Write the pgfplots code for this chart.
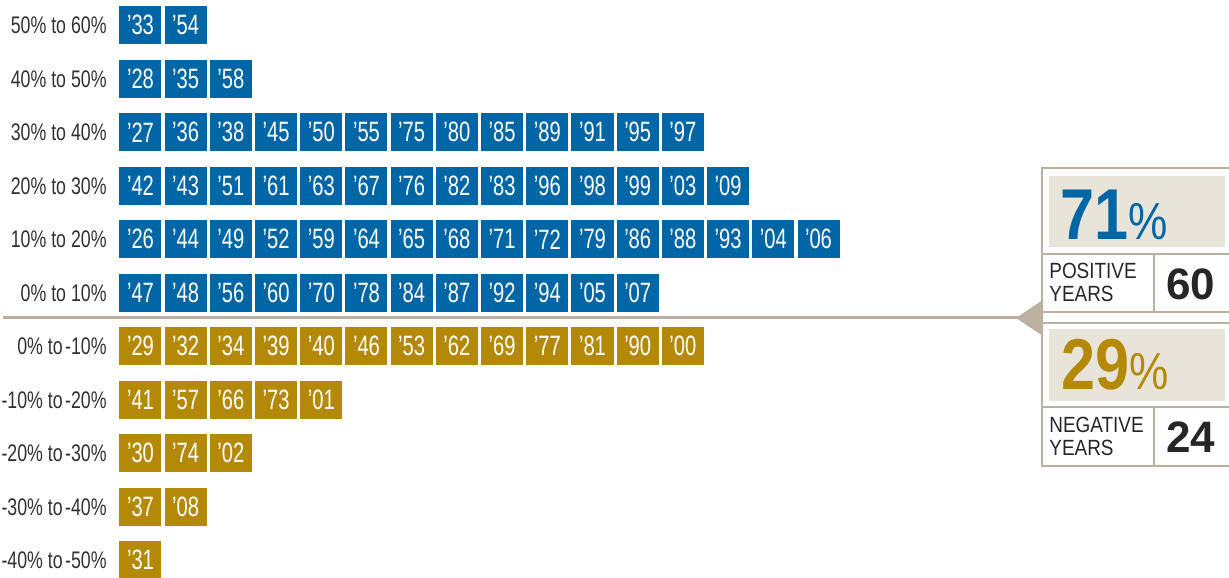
\documentclass[border=0pt]{standalone}
\usepackage{fontspec}
\setmainfont{Liberation Sans}
\newfontfamily\yearfam{Liberation Sans}[FakeStretch=0.72]
\newfontfamily\rowfam{Liberation Sans}[FakeStretch=0.74]
\newfontfamily\panelfam{Liberation Sans}[FakeStretch=0.86]
\newfontfamily\bigfam{Liberation Sans}[FakeStretch=0.85]
\usepackage{pgfplots}
\usepackage{pgfplotstable}
\pgfplotsset{compat=1.18}

\definecolor{posblue}{RGB}{0,102,166}
\definecolor{neggold}{RGB}{181,137,8}
\definecolor{rulecol}{RGB}{188,176,160}
\definecolor{panelbg}{RGB}{232,228,218}
\definecolor{labelgray}{RGB}{50,50,50}

\newcommand{\tominus}{to\hspace{0.1em}-}

% one box per year: column, middle of the return range, label
\pgfplotstableread{
col row lbl
1 55 ’33
2 55 ’54
1 45 ’28
2 45 ’35
3 45 ’58
1 35 ’27
2 35 ’36
3 35 ’38
4 35 ’45
5 35 ’50
6 35 ’55
7 35 ’75
8 35 ’80
9 35 ’85
10 35 ’89
11 35 ’91
12 35 ’95
13 35 ’97
1 25 ’42
2 25 ’43
3 25 ’51
4 25 ’61
5 25 ’63
6 25 ’67
7 25 ’76
8 25 ’82
9 25 ’83
10 25 ’96
11 25 ’98
12 25 ’99
13 25 ’03
14 25 ’09
1 15 ’26
2 15 ’44
3 15 ’49
4 15 ’52
5 15 ’59
6 15 ’64
7 15 ’65
8 15 ’68
9 15 ’71
10 15 ’72
11 15 ’79
12 15 ’86
13 15 ’88
14 15 ’93
15 15 ’04
16 15 ’06
1 5 ’47
2 5 ’48
3 5 ’56
4 5 ’60
5 5 ’70
6 5 ’78
7 5 ’84
8 5 ’87
9 5 ’92
10 5 ’94
11 5 ’05
12 5 ’07
}\posyears

\pgfplotstableread{
col row lbl
1 -5 ’29
2 -5 ’32
3 -5 ’34
4 -5 ’39
5 -5 ’40
6 -5 ’46
7 -5 ’53
8 -5 ’62
9 -5 ’69
10 -5 ’77
11 -5 ’81
12 -5 ’90
13 -5 ’00
1 -15 ’41
2 -15 ’57
3 -15 ’66
4 -15 ’73
5 -15 ’01
1 -25 ’30
2 -25 ’74
3 -25 ’02
1 -35 ’37
2 -35 ’08
1 -45 ’31
}\negyears

\begin{document}
\begin{tikzpicture}
\begin{axis}[
    name=ax,
    scale only axis,
    x=22.6bp, y=2.675bp,
    xmin=-2.108, xmax=25.082,
    ymin=-48.13, ymax=59.72,
    clip=false,
    axis line style={draw=none},
    tick style={draw=none},
    xtick=\empty,
    ytick={55,45,35,25,15,5,-5,-15,-25,-35,-45},
    yticklabels={50\% to 60\%,40\% to 50\%,30\% to 40\%,20\% to 30\%,
      10\% to 20\%,0\% to 10\%,0\% \tominus10\%,-10\% \tominus20\%,
      -20\% \tominus30\%,-30\% \tominus40\%,-40\% \tominus50\%},
    yticklabel style={anchor=east, inner sep=0pt, xshift=53.5bp,
      text=labelgray, font=\rowfam\fontsize{12bp}{14bp}\selectfont},
    yearbox/.style={
      only marks, mark=none,
      point meta=explicit symbolic,
      nodes near coords,
      nodes near coords align={center},
      every node near coord/.append style={
        fill=#1, text=white, inner sep=0pt,
        minimum width=21bp, minimum height=19bp,
        font=\yearfam\fontsize{14bp}{14bp}\selectfont}
    },
  ]
  \addplot[yearbox=posblue] table[x=col, y=row, meta=lbl] {\posyears};
  \addplot[yearbox=neggold] table[x=col, y=row, meta=lbl] {\negyears};
\end{axis}

% summary panel, drawn in pixel units of the reference
\begin{scope}[shift={(ax.north west)}, x=0.5bp, y=-0.5bp]
  \draw[rulecol, line width=1.5bp] (3,318) -- (1020,318);
  \fill[rulecol] (1016,318) -- (1043,300) -- (1043,336) -- cycle;

  \fill[panelbg] (1049,176) rectangle (1225,247);
  \draw[rulecol, line width=1.25bp] (1229,168) -- (1042,168) -- (1042,312) -- (1229,312);
  \draw[rulecol, line width=1.25bp] (1042,254) -- (1229,254) (1154,254) -- (1154,312);

  \fill[panelbg] (1049,329) rectangle (1225,401);
  \draw[rulecol, line width=1.25bp] (1229,323) -- (1042,323) -- (1042,466) -- (1229,466);
  \draw[rulecol, line width=1.25bp] (1042,407) -- (1229,407) (1154,407) -- (1154,466);

  \node[anchor=base west, inner sep=0pt, text=posblue] at (1060,240)
    {\bigfam\bfseries\fontsize{36bp}{36bp}\selectfont 71\mdseries\fontsize{26bp}{26bp}\selectfont\%};
  \node[anchor=base west, inner sep=0pt, text=neggold] at (1061,390)
    {\bigfam\bfseries\fontsize{36bp}{36bp}\selectfont 29\mdseries\fontsize{26bp}{26bp}\selectfont\%};

  \node[anchor=base west, inner sep=0pt, text=black!85] at (1049,279)
    {\panelfam\fontsize{11bp}{11bp}\selectfont POSITIVE};
  \node[anchor=base west, inner sep=0pt, text=black!85] at (1049,302)
    {\panelfam\fontsize{11bp}{11bp}\selectfont YEARS};
  \node[anchor=base west, inner sep=0pt, text=black!85] at (1049,433)
    {\panelfam\fontsize{11bp}{11bp}\selectfont NEGATIVE};
  \node[anchor=base west, inner sep=0pt, text=black!85] at (1049,456)
    {\panelfam\fontsize{11bp}{11bp}\selectfont YEARS};

  \node[anchor=base west, inner sep=0pt, text=black!85] at (1166,300)
    {\bfseries\fontsize{22bp}{22bp}\selectfont 60};
  \node[anchor=base west, inner sep=0pt, text=black!85] at (1166,453)
    {\bfseries\fontsize{22bp}{22bp}\selectfont 24};
\end{scope}
\pgfresetboundingbox
\path (ax.south west) rectangle (ax.north east);
\end{tikzpicture}
\end{document}
